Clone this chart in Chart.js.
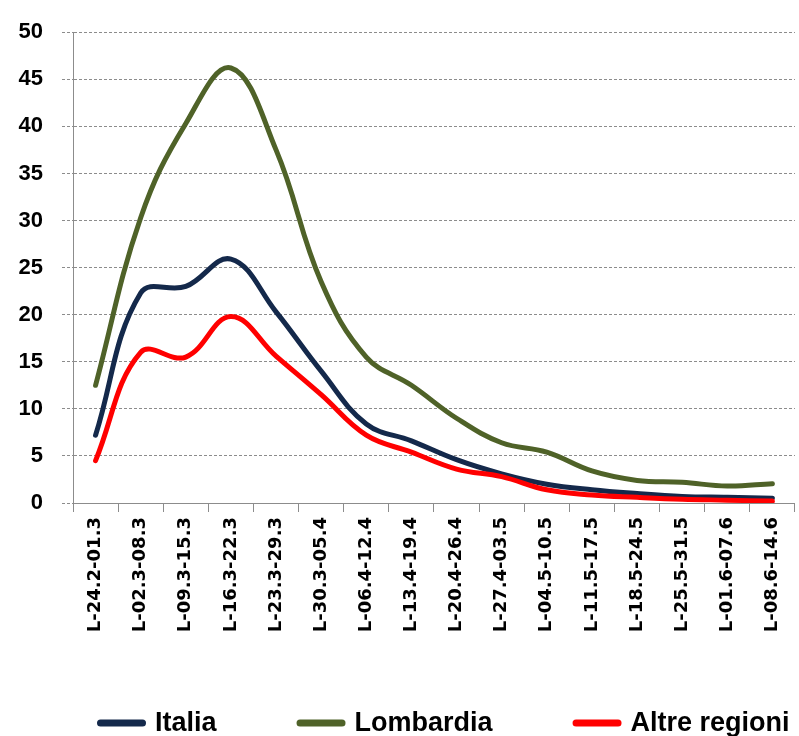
<!DOCTYPE html>
<html>
<head>
<meta charset="utf-8">
<script src="https://cdn.jsdelivr.net/npm/chart.js@4.4.1/dist/chart.umd.min.js"></script>
<style>
  html, body { margin: 0; padding: 0; background: #ffffff; }
  canvas { display: block; }
</style>
</head>
<body>
<canvas id="casiChart" width="799" height="736"></canvas>
<script>
let settimane = [
  "L-24.2-01.3", "L-02.3-08.3", "L-09.3-15.3", "L-16.3-22.3",
  "L-23.3-29.3", "L-30.3-05.4", "L-06.4-12.4", "L-13.4-19.4",
  "L-20.4-26.4", "L-27.4-03.5", "L-04.5-10.5", "L-11.5-17.5",
  "L-18.5-24.5", "L-25.5-31.5", "L-01.6-07.6", "L-08.6-14.6",
];
let italia = [7.2, 22.3, 23.0, 25.9, 20.3, 14.0, 8.4, 6.6, 4.6, 3.1, 2.0, 1.4, 1.0, 0.7, 0.6, 0.5];
let lombardia = [12.5, 30.3, 40.3, 46.2, 37.5, 23.5, 15.5, 12.5, 9.0, 6.4, 5.4, 3.4, 2.4, 2.2, 1.8, 2.05];
let altreRegioni = [4.5, 16.0, 15.5, 19.8, 15.6, 11.5, 7.2, 5.4, 3.6, 2.8, 1.4, 0.85, 0.6, 0.4, 0.3, 0.2];
let yTicks = [0, 5, 10, 15, 20, 25, 30, 35, 40, 45, 50];

let canvasElement = document.getElementById("casiChart");
let lineWidth = 5;
let gridColor = "#8c8c8c";

// legend drawn by hand: Chart.js legend can't do the wide gaps on one row
let bottomLegend = {
  id: "bottomLegend",
  afterDraw(chart, args, opts) {
    let ctx = chart.ctx;
    ctx.save();
    ctx.font = opts.font;
    ctx.textBaseline = "middle";
    ctx.textAlign = "left";
    let x = opts.left;
    chart.data.datasets.forEach((ds) => {
      ctx.strokeStyle = ds.borderColor;
      ctx.lineWidth = opts.lineHeight;
      ctx.lineCap = "round";
      ctx.beginPath();
      ctx.moveTo(x + opts.lineHeight / 2, opts.y);
      ctx.lineTo(x + opts.lineLength - opts.lineHeight / 2, opts.y);
      ctx.stroke();
      x += opts.lineLength + opts.textGap;
      ctx.fillStyle = "#000000";
      ctx.fillText(ds.label, x, opts.y + 1);
      x += ctx.measureText(ds.label).width + opts.itemGap;
    });
    ctx.restore();
  },
};

let myChart = new Chart(canvasElement, {
  type: "line",
  data: {
    labels: settimane,
    datasets: [
      {
        label: "Italia",
        data: italia,
        borderColor: "#14294b",
        backgroundColor: "#14294b",
        borderWidth: lineWidth,
        order: 1,
      },
      {
        label: "Lombardia",
        data: lombardia,
        borderColor: "#4f6228",
        backgroundColor: "#4f6228",
        borderWidth: lineWidth,
        order: 2,
      },
      {
        label: "Altre regioni",
        data: altreRegioni,
        borderColor: "#ff0000",
        backgroundColor: "#ff0000",
        borderWidth: lineWidth,
        order: 0,
      },
    ],
  },
  plugins: [bottomLegend],
  options: {
    responsive: false,
    animation: false,
    elements: {
      point: { radius: 0, hoverRadius: 0 },
      line: { tension: 0.4, borderCapStyle: "round", borderJoinStyle: "round" },
    },
    layout: { padding: { top: 24, right: 0, left: 0, bottom: 101 } },
    plugins: {
      tooltip: { enabled: false },
      legend: { display: false },
      bottomLegend: {
        left: 97,
        y: 723,
        lineLength: 49,
        lineHeight: 7,
        textGap: 9,
        itemGap: 80,
        font: "bold 27px 'Liberation Sans', Arial, sans-serif",
      },
    },
    scales: {
      x: {
        offset: true,
        grid: {
          offset: true,
          drawOnChartArea: false,
          drawTicks: true,
          tickLength: 9,
          color: gridColor,
        },
        border: { color: gridColor, width: 1 },
        ticks: {
          autoSkip: false,
          maxRotation: 90,
          minRotation: 90,
          padding: 5,
          color: "#000000",
          font: { family: "'DejaVu Sans', Verdana, sans-serif", size: 18, weight: "bold" },
        },
        afterFit: (scale) => { scale.height = 132; },
      },
      y: {
        min: 0,
        max: 50,
        afterBuildTicks: (scale) => { scale.ticks = yTicks.map((v) => ({ value: v })); },
        grid: {
          color: gridColor,
          lineWidth: 1,
          tickLength: 11,
          tickBorderDash: [3, 2],
        },
        border: { color: gridColor, width: 1, dash: [3, 2] },
        ticks: {
          padding: 19,
          color: "#000000",
          font: { family: "'Liberation Sans', Arial, sans-serif", size: 22, weight: "bold" },
        },
        afterFit: (scale) => { scale.width = 73; },
      },
    },
  },
});
</script>
</body>
</html>
